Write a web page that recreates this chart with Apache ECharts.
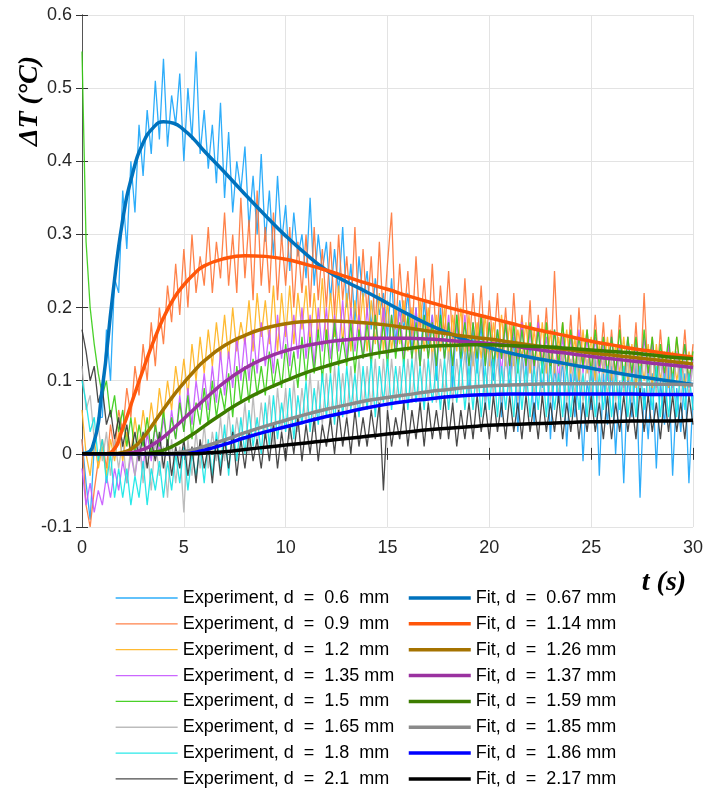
<!DOCTYPE html>
<html>
<head>
<meta charset="utf-8">
<script src="https://cdn.jsdelivr.net/npm/echarts@6/dist/echarts.min.js"></script>
<style>
html, body { margin: 0; padding: 0; background: #fff; }
#main { width: 719px; height: 789px; }
</style>
</head>
<body>
<div id="main"></div>
<script>
// sampling step of the measured curves (s)
const step = 0.2

const expNames = [
    'Experiment, d  =  0.6  mm', 'Experiment, d  =  0.9  mm', 'Experiment, d  =  1.2  mm',
    'Experiment, d  =  1.35 mm', 'Experiment, d  =  1.5  mm', 'Experiment, d  =  1.65 mm',
    'Experiment, d  =  1.8  mm', 'Experiment, d  =  2.1  mm'
]
const fitNames = [
    'Fit, d  =  0.67 mm', 'Fit, d  =  1.14 mm', 'Fit, d  =  1.26 mm', 'Fit, d  =  1.37 mm',
    'Fit, d  =  1.59 mm', 'Fit, d  =  1.85 mm', 'Fit, d  =  1.86 mm', 'Fit, d  =  2.17 mm'
]
const expColors = ['#17a4fa', '#ff7436', '#ffb21c', '#c557ff', '#35cc12', '#b5b5b5', '#12e6e6', '#353535']
const fitColors = ['#0072bd', '#ff560a', '#a57300', '#9a32a0', '#3c7c00', '#8a8a8a', '#0000ff', '#000000']

// measured dT every 0.2 s, t = 0 .. 30 (one row = one second)
const exp06 = [
    0.02,-0.04,-0.09,0.01,0.05, 0.05,0.17,0.10,0.24,0.22, 0.36,0.28,0.40,0.33,0.45, 0.38,0.47,0.41,0.51,0.43,
    0.54,0.42,0.49,0.45,0.52, 0.40,0.50,0.43,0.55,0.41, 0.47,0.39,0.45,0.37,0.48, 0.35,0.44,0.33,0.40,0.36,
    0.42,0.31,0.38,0.30,0.41, 0.29,0.36,0.27,0.38,0.29, 0.34,0.25,0.33,0.27,0.30, 0.24,0.35,0.23,0.30,0.25,
    0.29,0.21,0.28,0.22,0.31, 0.20,0.26,0.18,0.27,0.21, 0.25,0.17,0.24,0.19,0.22, 0.16,0.24,0.15,0.21,0.17,
    0.22,0.14,0.20,0.12,0.21, 0.15,0.19,0.10,0.20,0.13, 0.18,0.09,0.19,0.12,0.16, 0.08,0.17,0.11,0.18,0.06,
    0.15,0.10,0.17,0.05,0.14, 0.09,0.16,0.03,0.14,0.08, 0.15,0.04,0.13,0.09,0.14, 0.02,0.12,0.07,0.13,0.01,
    0.11,0.05,0.12,-0.01,0.10, 0.06,0.13,-0.03,0.11,0.04, 0.12,0.00,0.10,-0.04,0.11, 0.05,0.12,-0.06,0.09,0.02,
    0.11,-0.02,0.10,0.04,0.12, -0.03,0.09,0.03,0.11,-0.04, 0.08
]
const exp09 = [
    0.02,-0.07,-0.10,-0.05,-0.01, 0.02,-0.02,0.04,0.00,0.06, 0.03,0.09,0.05,0.12,0.08, 0.15,0.10,0.18,0.12,0.20,
    0.15,0.23,0.18,0.26,0.19, 0.28,0.20,0.30,0.22,0.27, 0.23,0.31,0.22,0.29,0.24, 0.33,0.23,0.30,0.22,0.35,
    0.24,0.32,0.21,0.36,0.23, 0.31,0.22,0.33,0.21,0.30, 0.23,0.31,0.20,0.29,0.22, 0.30,0.20,0.31,0.21,0.28,
    0.20,0.29,0.19,0.30,0.21, 0.27,0.19,0.31,0.18,0.28, 0.19,0.27,0.17,0.29,0.18, 0.26,0.33,0.17,0.26,0.18,
    0.25,0.16,0.27,0.17,0.24, 0.16,0.26,0.15,0.23,0.16, 0.25,0.15,0.22,0.14,0.24, 0.14,0.22,0.15,0.23,0.13,
    0.21,0.14,0.22,0.13,0.20, 0.12,0.22,0.13,0.19,0.12, 0.21,0.11,0.19,0.12,0.20, 0.11,0.25,0.12,0.18,0.11,
    0.19,0.10,0.20,0.12,0.17, 0.10,0.19,0.11,0.18,0.10, 0.17,0.10,0.19,0.09,0.16, 0.10,0.18,0.09,0.22,0.10,
    0.16,0.09,0.17,0.10,0.15, 0.09,0.16,0.10,0.17,0.09, 0.15
]
const exp12 = [
    0.06,0.00,-0.03,0.02,-0.02, 0.01,-0.03,0.02,-0.01,0.03, -0.01,0.03,0.00,0.05,0.01, 0.06,0.02,0.07,0.03,0.09,
    0.05,0.10,0.06,0.12,0.08, 0.13,0.08,0.15,0.10,0.16, 0.11,0.17,0.12,0.18,0.13, 0.19,0.13,0.20,0.14,0.18,
    0.15,0.21,0.14,0.22,0.16, 0.21,0.15,0.23,0.14,0.22, 0.16,0.23,0.15,0.22,0.17, 0.23,0.15,0.22,0.16,0.24,
    0.15,0.22,0.16,0.23,0.15, 0.22,0.14,0.21,0.16,0.22, 0.14,0.21,0.15,0.22,0.14, 0.21,0.14,0.20,0.15,0.21,
    0.14,0.20,0.13,0.21,0.14, 0.20,0.13,0.19,0.14,0.20, 0.13,0.19,0.14,0.20,0.13, 0.19,0.12,0.18,0.13,0.19,
    0.12,0.18,0.13,0.19,0.12, 0.18,0.12,0.17,0.13,0.18, 0.11,0.17,0.12,0.18,0.11, 0.17,0.11,0.16,0.12,0.17,
    0.11,0.16,0.10,0.17,0.11, 0.16,0.10,0.15,0.11,0.16, 0.10,0.15,0.11,0.16,0.10, 0.15,0.09,0.14,0.10,0.15,
    0.09,0.15,0.10,0.14,0.09, 0.14,0.10,0.13,0.09,0.14, 0.12
]
const exp135 = [
    -0.02,-0.07,-0.04,-0.08,-0.05, -0.07,-0.03,-0.06,-0.02,-0.05, -0.01,-0.04,0.00,-0.03,0.01, -0.02,0.03,-0.01,0.04,0.00,
    0.05,0.01,0.06,0.02,0.08, 0.03,0.09,0.04,0.10,0.06, 0.11,0.06,0.12,0.07,0.14, 0.08,0.14,0.09,0.16,0.10,
    0.16,0.10,0.17,0.11,0.18, 0.12,0.17,0.11,0.19,0.13, 0.18,0.12,0.19,0.13,0.20, 0.13,0.19,0.12,0.20,0.14,
    0.20,0.13,0.19,0.14,0.21, 0.13,0.20,0.14,0.19,0.13, 0.20,0.13,0.19,0.14,0.20, 0.13,0.19,0.14,0.20,0.13,
    0.19,0.13,0.20,0.12,0.19, 0.13,0.19,0.12,0.18,0.13, 0.19,0.12,0.18,0.13,0.19, 0.12,0.18,0.13,0.19,0.12,
    0.18,0.12,0.17,0.11,0.18, 0.11,0.17,0.12,0.18,0.11, 0.17,0.11,0.18,0.12,0.16, 0.11,0.17,0.10,0.16,0.11,
    0.16,0.10,0.17,0.11,0.16, 0.10,0.16,0.11,0.15,0.10, 0.16,0.10,0.15,0.09,0.16, 0.10,0.15,0.09,0.16,0.10,
    0.15,0.09,0.14,0.10,0.15, 0.09,0.14,0.10,0.15,0.09, 0.13
]
const exp15 = [
    0.55,0.29,0.20,0.15,0.11, 0.08,0.10,0.05,0.08,0.03, 0.06,0.01,0.05,0.00,0.04, 0.01,0.05,0.00,0.04,0.01,
    0.06,0.01,0.05,0.02,0.07, 0.03,0.08,0.02,0.07,0.04, 0.09,0.04,0.10,0.05,0.09, 0.06,0.11,0.05,0.12,0.07,
    0.12,0.07,0.13,0.08,0.12, 0.08,0.14,0.09,0.13,0.09, 0.15,0.10,0.14,0.09,0.16, 0.10,0.16,0.11,0.17,0.10,
    0.17,0.11,0.18,0.12,0.16, 0.12,0.18,0.11,0.17,0.13, 0.18,0.12,0.19,0.13,0.18, 0.12,0.19,0.13,0.18,0.12,
    0.19,0.13,0.18,0.12,0.19, 0.13,0.18,0.12,0.19,0.13, 0.18,0.12,0.19,0.13,0.18, 0.12,0.18,0.13,0.19,0.12,
    0.18,0.12,0.17,0.13,0.18, 0.12,0.18,0.11,0.17,0.12, 0.18,0.12,0.17,0.11,0.18, 0.11,0.17,0.12,0.18,0.11,
    0.17,0.11,0.16,0.12,0.17, 0.11,0.17,0.12,0.16,0.11, 0.16,0.11,0.17,0.10,0.16, 0.11,0.16,0.10,0.17,0.11,
    0.16,0.10,0.15,0.11,0.16, 0.10,0.16,0.11,0.15,0.10, 0.14
]
const exp165 = [
    0.12,0.06,0.08,0.02,0.04, -0.01,0.03,-0.03,0.02,-0.02, 0.02,-0.04,0.01,-0.03,0.02, -0.04,0.01,-0.05,0.02,-0.03,
    0.01,-0.06,0.02,-0.04,0.01, -0.08,0.02,-0.03,0.03,-0.02, 0.04,-0.02,0.03,-0.01,0.05, -0.01,0.06,0.00,0.05,0.01,
    0.07,0.00,0.08,0.01,0.07, 0.02,0.08,0.01,0.09,0.03, 0.09,0.02,0.10,0.03,0.09, 0.04,0.11,0.03,0.10,0.04,
    0.11,0.04,0.12,0.05,0.11, 0.05,0.12,0.05,0.13,0.06, 0.12,0.06,0.13,0.05,0.13, 0.06,0.13,0.07,0.12,0.06,
    0.13,0.07,0.14,0.06,0.13, 0.07,0.14,0.07,0.13,0.08, 0.14,0.07,0.13,0.08,0.14, 0.07,0.14,0.08,0.13,0.07,
    0.14,0.08,0.13,0.07,0.14, 0.08,0.14,0.07,0.13,0.08, 0.14,0.08,0.13,0.07,0.14, 0.07,0.13,0.08,0.14,0.07,
    0.13,0.08,0.14,0.07,0.13, 0.08,0.14,0.07,0.13,0.08, 0.13,0.07,0.14,0.08,0.13, 0.07,0.13,0.08,0.14,0.07,
    0.14,0.08,0.13,0.07,0.13, 0.08,0.14,0.07,0.13,0.08, 0.12
]
const exp18 = [
    0.10,0.07,0.03,0.05,-0.01, 0.02,-0.04,0.00,-0.06,-0.02, -0.06,-0.02,-0.07,-0.03,-0.06, -0.01,-0.07,-0.02,-0.05,-0.01,
    -0.06,-0.01,-0.05,0.00,-0.04, 0.01,-0.05,0.00,-0.03,0.01, -0.04,0.02,-0.03,0.03,-0.02, 0.04,-0.03,0.04,-0.01,0.05,
    0.00,0.06,0.01,0.05,0.00, 0.07,0.01,0.08,0.02,0.07, 0.03,0.09,0.02,0.08,0.04, 0.10,0.03,0.09,0.04,0.11,
    0.05,0.11,0.04,0.12,0.05, 0.12,0.06,0.11,0.05,0.12, 0.06,0.13,0.05,0.12,0.07, 0.13,0.06,0.12,0.07,0.13,
    0.06,0.13,0.07,0.12,0.06, 0.13,0.07,0.12,0.06,0.13, 0.06,0.12,0.07,0.13,0.06, 0.12,0.06,0.13,0.05,0.12,
    0.06,0.13,0.05,0.12,0.06, 0.12,0.05,0.13,0.06,0.12, 0.05,0.12,0.06,0.13,0.05, 0.12,0.06,0.11,0.05,0.12,
    0.05,0.12,0.06,0.11,0.05, 0.12,0.05,0.11,0.06,0.12, 0.05,0.11,0.06,0.12,0.05, 0.11,0.05,0.12,0.06,0.11,
    0.06,0.12,0.05,0.11,0.05, 0.11,0.05,0.12,0.06,0.11, 0.06
]
const exp21 = [
    0.17,0.14,0.10,0.12,0.07, 0.09,0.04,0.06,0.02,0.05, 0.01,0.04,0.00,0.03,-0.01, 0.03,-0.02,0.02,-0.01,0.03,
    -0.02,0.02,-0.03,0.01,-0.02, 0.02,-0.03,0.01,-0.04,0.02, -0.02,0.01,-0.04,0.02,-0.03, 0.02,-0.02,0.03,-0.03,0.02,
    -0.02,0.03,-0.01,0.02,-0.02, 0.03,-0.01,0.04,-0.02,0.03, -0.01,0.04,0.00,0.05,-0.01, 0.04,0.00,0.05,-0.01,0.04,
    0.01,0.05,0.00,0.06,0.01, 0.05,0.00,0.06,0.01,0.05, 0.01,0.06,0.02,0.07,-0.05, 0.06,0.01,0.05,0.02,0.07,
    0.01,0.06,0.02,0.07,0.01, 0.07,0.02,0.06,0.02,0.08, 0.02,0.07,0.01,0.06,0.02, 0.07,0.02,0.08,0.03,0.07,
    0.02,0.08,0.03,0.07,0.02, 0.08,0.03,0.07,0.02,0.08, 0.03,0.07,0.02,0.08,0.03, 0.07,0.03,0.08,0.02,0.07,
    0.03,0.08,0.02,0.07,0.03, 0.08,0.03,0.07,0.02,0.08, 0.02,0.07,0.03,0.08,0.03, 0.07,0.02,0.09,0.03,0.08,
    0.03,0.07,0.02,0.08,0.03, 0.08,0.03,0.07,0.02,0.08, 0.04
]

// fitted curves, sampled every 0.5 s up to 6 s, then every 1 s
const fitT = [0,0.5,1,1.5,2,2.5,3,3.5,4,4.5,5,5.5,6,7,8,9,10,11,12,13,14,15,16,17,18,19,20,21,22,23,24,25,26,27,28,29,30]
const fit067 = [0,0.008,0.09,0.215,0.32,0.385,0.425,0.446,0.454,0.452,0.443,0.43,0.414,0.385,0.355,0.326,0.298,0.273,0.251,0.235,0.221,0.206,0.191,0.177,0.165,0.154,0.145,0.138,0.132,0.127,0.122,0.117,0.112,0.107,0.103,0.099,0.095]
const fit114 = [0,0,0,0.004,0.035,0.075,0.115,0.153,0.186,0.212,0.231,0.246,0.257,0.267,0.271,0.27,0.266,0.259,0.251,0.242,0.233,0.225,0.216,0.208,0.2,0.193,0.186,0.179,0.172,0.166,0.16,0.154,0.149,0.144,0.14,0.136,0.132]
const fit126 = [0,0,0,0,0.002,0.008,0.022,0.041,0.061,0.08,0.097,0.113,0.127,0.148,0.162,0.172,0.178,0.181,0.182,0.181,0.179,0.176,0.172,0.168,0.164,0.16,0.157,0.153,0.149,0.145,0.142,0.138,0.135,0.132,0.129,0.126,0.123]
const fit137 = [0,0,0,0,0,0.002,0.006,0.013,0.023,0.035,0.048,0.061,0.074,0.098,0.117,0.131,0.141,0.148,0.153,0.156,0.158,0.158,0.158,0.157,0.155,0.153,0.151,0.148,0.144,0.14,0.137,0.133,0.13,0.127,0.124,0.121,0.118]
const fit159 = [0,0,0,0,0,0,0,0.002,0.005,0.011,0.019,0.028,0.038,0.057,0.074,0.088,0.1,0.111,0.12,0.128,0.135,0.14,0.144,0.147,0.148,0.149,0.149,0.148,0.147,0.146,0.144,0.142,0.14,0.138,0.135,0.132,0.13]
const fit185 = [0,0,0,0,0,0,0,0,0,0.001,0.003,0.006,0.01,0.019,0.029,0.038,0.046,0.054,0.061,0.067,0.073,0.077,0.081,0.085,0.088,0.091,0.093,0.094,0.095,0.096,0.096,0.096,0.096,0.096,0.095,0.095,0.094]
const fit186 = [0,0,0,0,0,0,0,0,0,0,0,0.002,0.005,0.013,0.022,0.03,0.037,0.044,0.051,0.057,0.063,0.068,0.072,0.075,0.078,0.08,0.081,0.082,0.082,0.082,0.082,0.082,0.082,0.082,0.081,0.081,0.081]
const fit217 = [0,0,0,0,0,0,0,0,0,0,0,0,0.001,0.003,0.006,0.009,0.012,0.015,0.018,0.021,0.024,0.027,0.03,0.033,0.035,0.037,0.039,0.04,0.041,0.042,0.043,0.044,0.044,0.045,0.045,0.045,0.046]

const expList = [exp06, exp09, exp12, exp135, exp15, exp165, exp18, exp21]
const fitList = [fit067, fit114, fit126, fit137, fit159, fit185, fit186, fit217]

let series = []
expList.forEach(function (arr, k) {
    series.push({
        name: expNames[k],
        type: 'line',
        showSymbol: false,
        symbol: 'none',
        data: arr.map(function (v, i) { return [i * step, v] }),
        lineStyle: { width: 1.3, color: expColors[k], opacity: 0.9 },
        itemStyle: { color: expColors[k] }
    })
})
fitList.forEach(function (arr, k) {
    series.push({
        name: fitNames[k],
        type: 'line',
        showSymbol: false,
        symbol: 'none',
        smooth: 0.5,
        data: arr.map(function (v, i) { return [fitT[i], v] }),
        lineStyle: { width: 3.5, color: fitColors[k] },
        itemStyle: { color: fitColors[k] }
    })
})

// legend: two columns, line only (hide the marker)
const legendBase = {
    orient: 'vertical',
    top: 589,
    padding: 0,
    itemWidth: 62,
    itemHeight: 14,
    itemGap: 7.85,
    itemStyle: { opacity: 0 },
    lineStyle: { width: 'inherit' },
    textStyle: { fontSize: 18, fontFamily: 'Liberation Sans', color: '#000' }
}

let myChart = echarts.init(document.getElementById('main'))

let option = {
    animation: false,
    backgroundColor: '#fff',
    grid: { left: 82, right: 26, top: 15, bottom: 262, containLabel: false },
    legend: [
        Object.assign({ left: 115, data: expNames }, legendBase),
        Object.assign({ left: 407, data: fitNames }, legendBase)
    ],
    xAxis: [{
        type: 'value', min: 0, max: 30, interval: 5,
        axisLine: { lineStyle: { color: '#555' } },
        axisTick: { inside: true, length: 6, lineStyle: { color: '#333' } },
        axisLabel: { fontSize: 18, fontFamily: 'Liberation Sans', color: '#262626', margin: 12 },
        splitLine: { lineStyle: { color: '#e3e3e3' } }
    }, {
        type: 'value', min: 0, max: 30, interval: 5, position: 'top',
        axisLine: { lineStyle: { color: '#555' } },
        axisTick: { inside: true, length: 6, lineStyle: { color: '#333' } },
        axisLabel: { show: false },
        splitLine: { show: false }
    }],
    yAxis: [{
        type: 'value', min: -0.1, max: 0.6, interval: 0.1,
        axisLine: { show: true, lineStyle: { color: '#555' } },
        axisTick: { show: true, inside: true, length: 6, lineStyle: { color: '#333' } },
        axisLabel: { fontSize: 18, fontFamily: 'Liberation Sans', color: '#262626', margin: 10 },
        splitLine: { lineStyle: { color: '#e3e3e3' } }
    }, {
        type: 'value', min: -0.1, max: 0.6, interval: 0.1, position: 'right',
        axisLine: { show: true, lineStyle: { color: '#555' } },
        axisTick: { show: true, inside: true, length: 6, lineStyle: { color: '#333' } },
        axisLabel: { show: false },
        splitLine: { show: false }
    }],
    graphic: [{
        type: 'text',
        x: 30, y: 101,
        rotation: Math.PI / 2,
        style: {
            text: 'ΔT (°C)',
            font: 'bold italic 28px "Liberation Serif"',
            fill: '#000',
            align: 'center',
            verticalAlign: 'middle'
        }
    }, {
        type: 'text',
        x: 664, y: 583,
        style: {
            text: 't (s)',
            font: 'bold italic 28px "Liberation Serif"',
            fill: '#000',
            align: 'center',
            verticalAlign: 'middle'
        }
    }],
    series: series
}

myChart.setOption(option)
</script>
</body>
</html>
